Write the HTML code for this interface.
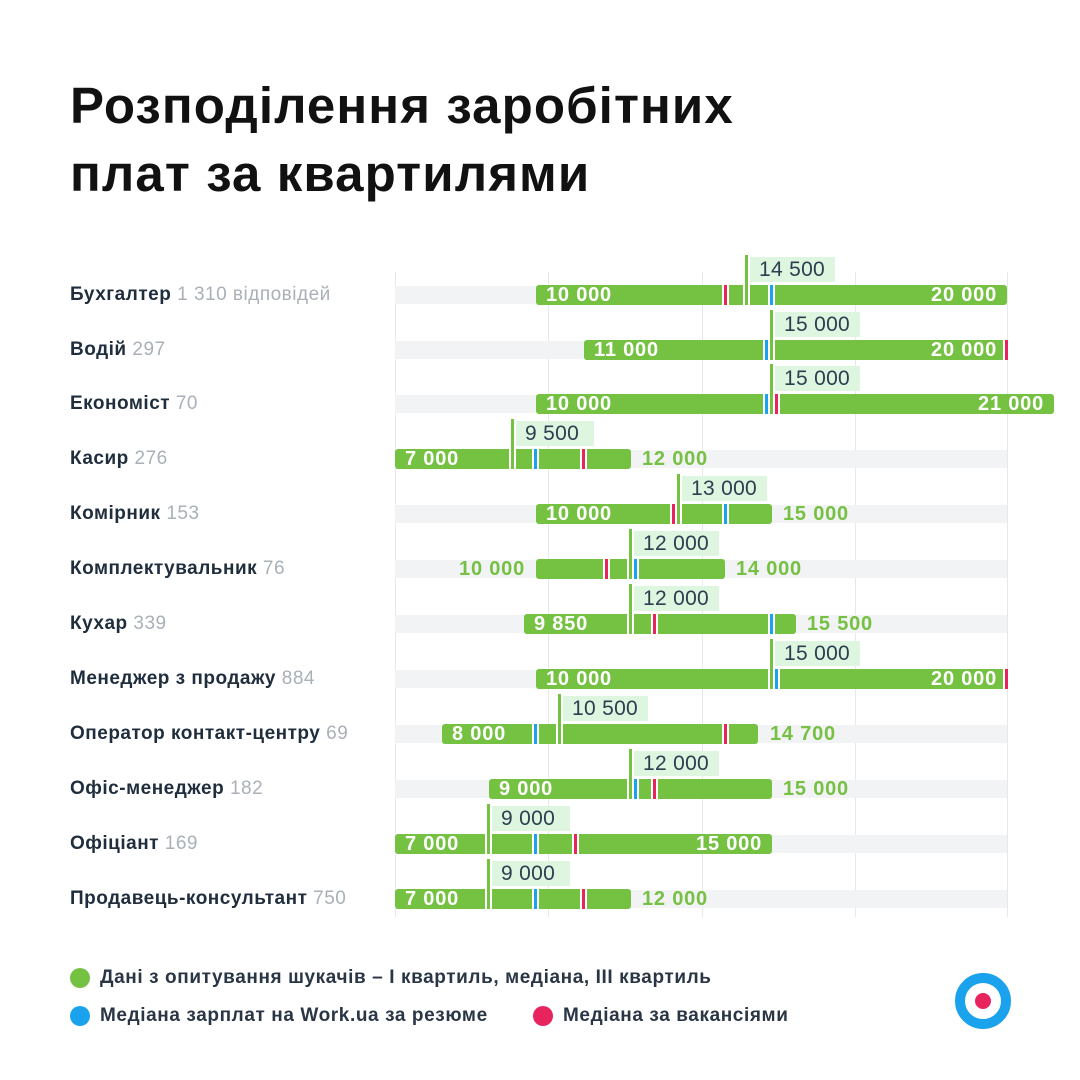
<!DOCTYPE html>
<html><head><meta charset="utf-8"><style>
*{margin:0;padding:0;box-sizing:border-box}
body{width:1080px;height:1080px;background:#fff;position:relative;overflow:hidden;font-family:"Liberation Sans","DejaVu Sans",sans-serif;color:#1f2d3d}
.a{position:absolute}
h1{position:absolute;left:70px;top:72px;font-size:51px;line-height:68px;font-weight:bold;color:#111;letter-spacing:1.1px}
.grid{position:absolute;top:272px;width:1px;height:645px;background:#e8e8ea}
.trk{position:absolute;left:395px;width:612px;height:18px;background:#f2f3f5}
.bar{position:absolute;height:20px;background:#75c142;border-radius:3px}
.mk{position:absolute;width:7px;height:20px;border-left:2px solid #fff;border-right:2px solid #fff}
.md{position:absolute;width:7px;height:50px;border-left:2px solid #fff;border-right:2px solid #fff;background:#75c142;background-clip:padding-box}
.bx{position:absolute;height:25px;background:#def5df;font-size:21px;line-height:25px;color:#2d3e50;padding-left:9px;letter-spacing:0.3px}
.wl{position:absolute;font-size:20px;line-height:20px;font-weight:bold;color:#fff;letter-spacing:0.8px}
.gl{position:absolute;font-size:20px;line-height:20px;font-weight:bold;color:#76c043;letter-spacing:0.8px}
.lb{position:absolute;left:70px;font-size:19px;font-weight:bold;line-height:22px;color:#1f2d3d;letter-spacing:0.5px}
.lb span{font-weight:normal;color:#a9b0b8}
.dot{position:absolute;width:20px;height:20px;border-radius:50%}
.lg{position:absolute;font-size:19px;font-weight:bold;color:#2a3646;line-height:22px;letter-spacing:0.6px}
</style></head><body>
<h1>Розподілення заробітних<br>плат за квартилями</h1>
<div class="grid" style="left:395px"></div><div class="grid" style="left:548px"></div><div class="grid" style="left:702px"></div><div class="grid" style="left:855px"></div><div class="grid" style="left:1007px"></div>

<div class="lb" style="top:284px">Бухгалтер <span>1 310 відповідей</span></div>
<div class="trk" style="top:286px"></div>
<div class="bar" style="top:285px;left:536px;width:471px"></div>
<div class="mk" style="top:285px;left:722px;background:#e8245f;background-clip:padding-box"></div>
<div class="mk" style="top:285px;left:768px;background:#1aa3ec;background-clip:padding-box"></div>
<div class="md" style="top:255px;left:743px"></div>
<div class="bx" style="top:257px;left:750px;width:85px">14 500</div>
<div class="wl" style="top:285px;left:546px">10 000</div>
<div class="wl" style="top:285px;right:83px">20 000</div>

<div class="lb" style="top:339px">Водій <span>297</span></div>
<div class="trk" style="top:341px"></div>
<div class="bar" style="top:340px;left:584px;width:423px"></div>
<div class="mk" style="top:340px;left:763px;background:#1aa3ec;background-clip:padding-box"></div>
<div class="mk" style="top:340px;left:1003px;background:#e8245f;background-clip:padding-box"></div>
<div class="md" style="top:310px;left:768px"></div>
<div class="bx" style="top:312px;left:775px;width:85px">15 000</div>
<div class="wl" style="top:340px;left:594px">11 000</div>
<div class="wl" style="top:340px;right:83px">20 000</div>

<div class="lb" style="top:393px">Економіст <span>70</span></div>
<div class="trk" style="top:395px"></div>
<div class="bar" style="top:394px;left:536px;width:518px"></div>
<div class="mk" style="top:394px;left:763px;background:#1aa3ec;background-clip:padding-box"></div>
<div class="mk" style="top:394px;left:773px;background:#e8245f;background-clip:padding-box"></div>
<div class="md" style="top:364px;left:768px"></div>
<div class="bx" style="top:366px;left:775px;width:85px">15 000</div>
<div class="wl" style="top:394px;left:546px">10 000</div>
<div class="wl" style="top:394px;right:36px">21 000</div>

<div class="lb" style="top:448px">Касир <span>276</span></div>
<div class="trk" style="top:450px"></div>
<div class="bar" style="top:449px;left:395px;width:236px"></div>
<div class="mk" style="top:449px;left:532px;background:#1aa3ec;background-clip:padding-box"></div>
<div class="mk" style="top:449px;left:580px;background:#e8245f;background-clip:padding-box"></div>
<div class="md" style="top:419px;left:509px"></div>
<div class="bx" style="top:421px;left:516px;width:78px">9 500</div>
<div class="wl" style="top:449px;left:405px">7 000</div>
<div class="gl" style="top:449px;left:642px">12 000</div>

<div class="lb" style="top:503px">Комірник <span>153</span></div>
<div class="trk" style="top:505px"></div>
<div class="bar" style="top:504px;left:536px;width:236px"></div>
<div class="mk" style="top:504px;left:670px;background:#e8245f;background-clip:padding-box"></div>
<div class="mk" style="top:504px;left:722px;background:#1aa3ec;background-clip:padding-box"></div>
<div class="md" style="top:474px;left:675px"></div>
<div class="bx" style="top:476px;left:682px;width:85px">13 000</div>
<div class="wl" style="top:504px;left:546px">10 000</div>
<div class="gl" style="top:504px;left:783px">15 000</div>

<div class="lb" style="top:558px">Комплектувальник <span>76</span></div>
<div class="trk" style="top:560px"></div>
<div class="bar" style="top:559px;left:536px;width:189px"></div>
<div class="mk" style="top:559px;left:603px;background:#e8245f;background-clip:padding-box"></div>
<div class="mk" style="top:559px;left:632px;background:#1aa3ec;background-clip:padding-box"></div>
<div class="md" style="top:529px;left:627px"></div>
<div class="bx" style="top:531px;left:634px;width:85px">12 000</div>
<div class="gl" style="top:559px;right:555px">10 000</div>
<div class="gl" style="top:559px;left:736px">14 000</div>

<div class="lb" style="top:613px">Кухар <span>339</span></div>
<div class="trk" style="top:615px"></div>
<div class="bar" style="top:614px;left:524px;width:272px"></div>
<div class="mk" style="top:614px;left:651px;background:#e8245f;background-clip:padding-box"></div>
<div class="mk" style="top:614px;left:768px;background:#1aa3ec;background-clip:padding-box"></div>
<div class="md" style="top:584px;left:627px"></div>
<div class="bx" style="top:586px;left:634px;width:85px">12 000</div>
<div class="wl" style="top:614px;left:534px">9 850</div>
<div class="gl" style="top:614px;left:807px">15 500</div>

<div class="lb" style="top:668px">Менеджер з продажу <span>884</span></div>
<div class="trk" style="top:670px"></div>
<div class="bar" style="top:669px;left:536px;width:471px"></div>
<div class="mk" style="top:669px;left:773px;background:#1aa3ec;background-clip:padding-box"></div>
<div class="mk" style="top:669px;left:1003px;background:#e8245f;background-clip:padding-box"></div>
<div class="md" style="top:639px;left:768px"></div>
<div class="bx" style="top:641px;left:775px;width:85px">15 000</div>
<div class="wl" style="top:669px;left:546px">10 000</div>
<div class="wl" style="top:669px;right:83px">20 000</div>

<div class="lb" style="top:723px">Оператор контакт-центру <span>69</span></div>
<div class="trk" style="top:725px"></div>
<div class="bar" style="top:724px;left:442px;width:316px"></div>
<div class="mk" style="top:724px;left:532px;background:#1aa3ec;background-clip:padding-box"></div>
<div class="mk" style="top:724px;left:722px;background:#e8245f;background-clip:padding-box"></div>
<div class="md" style="top:694px;left:556px"></div>
<div class="bx" style="top:696px;left:563px;width:85px">10 500</div>
<div class="wl" style="top:724px;left:452px">8 000</div>
<div class="gl" style="top:724px;left:770px">14 700</div>

<div class="lb" style="top:778px">Офіс-менеджер <span>182</span></div>
<div class="trk" style="top:780px"></div>
<div class="bar" style="top:779px;left:489px;width:283px"></div>
<div class="mk" style="top:779px;left:632px;background:#1aa3ec;background-clip:padding-box"></div>
<div class="mk" style="top:779px;left:651px;background:#e8245f;background-clip:padding-box"></div>
<div class="md" style="top:749px;left:627px"></div>
<div class="bx" style="top:751px;left:634px;width:85px">12 000</div>
<div class="wl" style="top:779px;left:499px">9 000</div>
<div class="gl" style="top:779px;left:783px">15 000</div>

<div class="lb" style="top:833px">Офіціант <span>169</span></div>
<div class="trk" style="top:835px"></div>
<div class="bar" style="top:834px;left:395px;width:377px"></div>
<div class="mk" style="top:834px;left:532px;background:#1aa3ec;background-clip:padding-box"></div>
<div class="mk" style="top:834px;left:572px;background:#e8245f;background-clip:padding-box"></div>
<div class="md" style="top:804px;left:485px"></div>
<div class="bx" style="top:806px;left:492px;width:78px">9 000</div>
<div class="wl" style="top:834px;left:405px">7 000</div>
<div class="wl" style="top:834px;right:318px">15 000</div>

<div class="lb" style="top:888px">Продавець-консультант <span>750</span></div>
<div class="trk" style="top:890px"></div>
<div class="bar" style="top:889px;left:395px;width:236px"></div>
<div class="mk" style="top:889px;left:532px;background:#1aa3ec;background-clip:padding-box"></div>
<div class="mk" style="top:889px;left:580px;background:#e8245f;background-clip:padding-box"></div>
<div class="md" style="top:859px;left:485px"></div>
<div class="bx" style="top:861px;left:492px;width:78px">9 000</div>
<div class="wl" style="top:889px;left:405px">7 000</div>
<div class="gl" style="top:889px;left:642px">12 000</div>

<div class="dot" style="left:70px;top:968px;background:#75c142"></div>
<div class="lg" style="left:100px;top:967px">Дані з опитування шукачів – I квартиль, медіана, III квартиль</div>
<div class="dot" style="left:70px;top:1006px;background:#1aa3ec"></div>
<div class="lg" style="left:100px;top:1005px">Медіана зарплат на Work.ua за резюме</div>
<div class="dot" style="left:533px;top:1006px;background:#e8245f"></div>
<div class="lg" style="left:563px;top:1005px">Медіана за вакансіями</div>

<div class="a" style="left:955px;top:973px;width:56px;height:56px;border-radius:50%;border:10px solid #1aa3ec;background:#fff"></div>
<div class="a" style="left:975px;top:993px;width:16px;height:16px;border-radius:50%;background:#e8245f"></div>
</body></html>
